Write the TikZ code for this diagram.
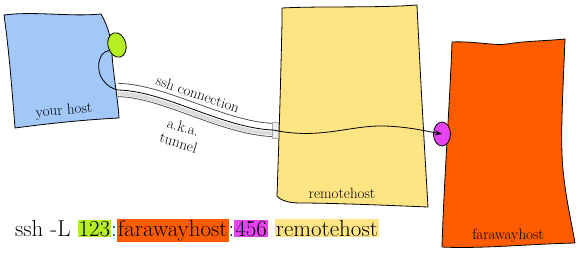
\documentclass[tikz,border=0pt]{standalone}
\usepackage{fontspec}
\usetikzlibrary{arrows.meta,shapes.geometric}
\definecolor{hostblue}{RGB}{162,200,250}
\definecolor{portgreen}{RGB}{182,240,34}
\definecolor{remoteyellow}{RGB}{254,228,130}
\definecolor{farorange}{RGB}{255,92,0}
\definecolor{portmag}{RGB}{230,68,242}
\setlength{\fboxsep}{1pt}
\begin{document}
\begin{tikzpicture}[x=1pt,y=-1pt,
  font=\fontsize{15}{17}\selectfont,
  sketch/.style={draw=black, line width=0.8pt, line join=round},
  port/.style={sketch, ellipse, inner sep=0pt},
  label/.style={inner sep=0.5pt}]
\useasboundingbox (0,0) rectangle (580,254);

% your host
\path[sketch, fill=hostblue] (4,15) .. controls (35,11) and (70,17) .. (101,14)
  .. controls (108,26) and (112,40) .. (112,55)
  .. controls (114,80) and (118,100) .. (119,118)
  .. controls (80,120) and (45,124) .. (15,128)
  .. controls (12,90) and (9,50) .. (4,15) -- cycle;
\node[label, rotate=5] (yourhost) at (64,111) {your host};

% remotehost
\path[sketch, fill=remoteyellow] (282,8) .. controls (320,6) and (380,8) .. (417,5)
  .. controls (420,70) and (424,140) .. (428,207)
  .. controls (380,205) and (330,203) .. (300,203)
  .. controls (288,203) and (280,200) .. (277,196)
  .. controls (279,140) and (281,70) .. (282,22) -- (282,8) -- cycle;
\node[label] (remotehost) at (342,193) {remotehost};

% farawayhost
\path[sketch, fill=farorange] (452,42) .. controls (475,41) and (495,46) .. (507,44)
  .. controls (525,41) and (545,41) .. (565,39)
  .. controls (563,90) and (560,140) .. (563,170)
  .. controls (566,200) and (572,225) .. (575,243)
  .. controls (530,244) and (480,249) .. (442,247)
  .. controls (444,180) and (450,100) .. (452,42) -- cycle;
\node[label] (farawayhost) at (508,236) {farawayhost};

% ports
\node[port, fill=portgreen, minimum width=18pt, minimum height=25pt, rotate=15] (lport) at (117,45) {};
\node[port, fill=portmag, minimum width=17pt, minimum height=24pt] (rport) at (442,134) {};

% tunnel
\coordinate (tubeL) at (118,90);
\coordinate (tubeR) at (273,130);
\draw[black!75, line width=14pt] (tubeL) .. controls (165,91) and (222,128) .. (tubeR);
\draw[white, line width=12.4pt] (tubeL) .. controls (165,91) and (222,128) .. (tubeR);
\draw[gray!28, line width=4pt] ([yshift=-3.5pt]tubeL) .. controls (165,95) and (222,132) .. ([yshift=-3.5pt]tubeR);
\path[draw=gray!70, fill=gray!12, line width=0.5pt] (272,122) rectangle (278,138);

% connection line
\draw[black, line width=0.8pt, -{Stealth[length=7pt,width=5pt]}]
  (lport.200) .. controls (97,52) and (96,72) .. (103,80)
  .. controls (107,86) and (113,89) .. (tubeL)
  .. controls (165,91) and (222,128) .. (tubeR)
  .. controls (320,140) and (350,125) .. (385,126)
  .. controls (410,127) and (425,131) .. (rport.center);

% labels on the tunnel
\node[label, rotate=-19] (sshconn) at (198,94) {ssh connection};
\node[label, rotate=-17, align=center, font=\fontsize{15}{16}\selectfont] (aka) at (181,135) {a.k.a.\\tunnel};

% command
\node[anchor=base west, inner sep=0pt, font=\fontsize{23}{27}\selectfont] (cmd) at (15,236)
  {ssh -L \colorbox{portgreen}{123}:\colorbox{farorange}{farawayhost}:\colorbox{portmag}{456} \colorbox{remoteyellow}{remotehost}};
\end{tikzpicture}
\end{document}
